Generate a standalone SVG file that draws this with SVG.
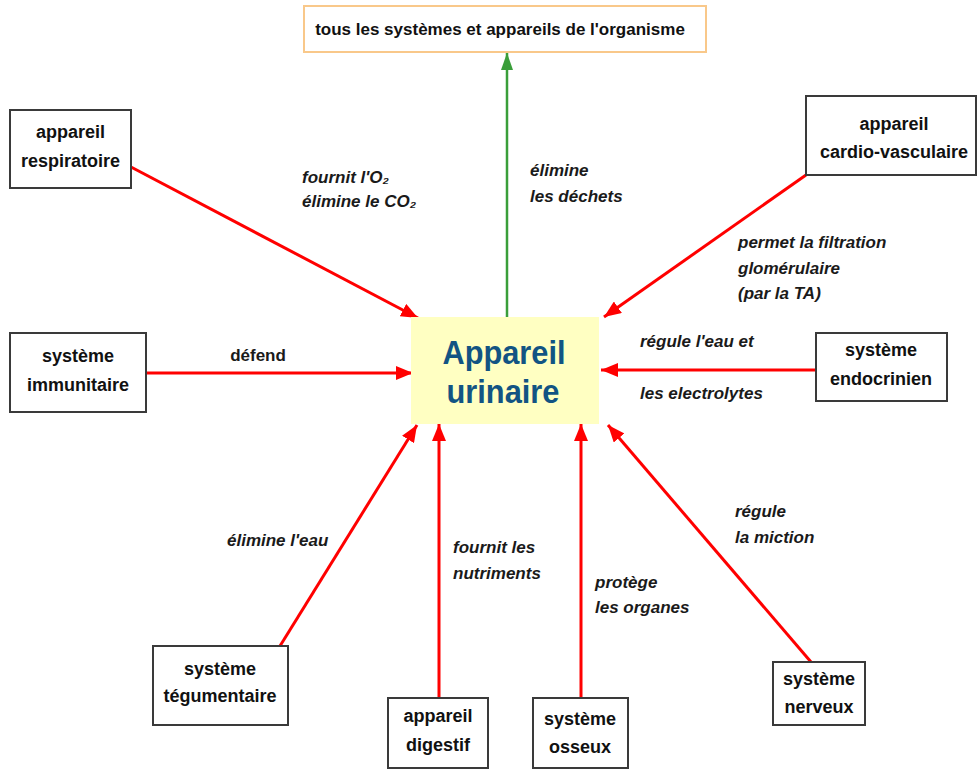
<svg xmlns="http://www.w3.org/2000/svg" width="979" height="769" viewBox="0 0 979 769">
<defs>
<style>
.box{fill:#fff;stroke:#3a3a3a;stroke-width:2}
.nt{font-family:"Liberation Sans",Arial,sans-serif;font-size:18px;font-weight:bold;fill:#111;text-anchor:middle}
.lb{font-family:"Liberation Sans",Arial,sans-serif;font-size:17px;font-weight:bold;font-style:italic;fill:#1a1a1a}
.red{stroke:#ff0000;stroke-width:3;fill:none;marker-end:url(#ar)}
.grn{stroke:#3a9e3a;stroke-width:2.5;fill:none;marker-end:url(#ag)}
.ct{font-family:"Liberation Sans",Arial,sans-serif;font-size:34px;font-weight:bold;fill:#125483;text-anchor:middle}
</style>
<marker id="ar" markerUnits="userSpaceOnUse" markerWidth="18" markerHeight="14" refX="17" refY="7" orient="auto"><path d="M0,0 L17,7 L0,14 z" fill="#ff0000"/></marker>
<marker id="ag" markerUnits="userSpaceOnUse" markerWidth="18" markerHeight="14" refX="17" refY="6" orient="auto"><path d="M0,0 L17,6 L0,12 z" fill="#3a9e3a"/></marker>
</defs>
<rect width="979" height="769" fill="#fff"/>
<g id="connectors">
<line class="grn" x1="507" y1="317" x2="507" y2="53"/>
<line class="red" x1="131" y1="167" x2="418" y2="318"/>
<line class="red" x1="146" y1="373" x2="413" y2="373"/>
<line class="red" x1="280" y1="646" x2="417" y2="425"/>
<line class="red" x1="439" y1="698" x2="439" y2="424"/>
<line class="red" x1="581" y1="698" x2="581" y2="424"/>
<line class="red" x1="811" y1="662" x2="608" y2="425"/>
<line class="red" x1="816" y1="370" x2="601" y2="370"/>
<line class="red" x1="806" y1="175" x2="604" y2="317"/>
</g>
<g id="labels">
<text class="lb" x="302" y="183">fournit l'O₂</text>
<text class="lb" x="302" y="207">élimine le CO₂</text>
<text class="lb" x="530" y="176">élimine</text>
<text class="lb" x="530" y="202">les déchets</text>
<text class="lb" x="738" y="248">permet la filtration</text>
<text class="lb" x="738" y="274">glomérulaire</text>
<text class="lb" x="738" y="299">(par la TA)</text>
<text class="lb" x="258" y="361" style="font-style:normal;text-anchor:middle">défend</text>
<text class="lb" x="640" y="347">régule l'eau et</text>
<text class="lb" x="640" y="399">les electrolytes</text>
<text class="lb" x="227" y="546">élimine l'eau</text>
<text class="lb" x="453" y="553">fournit les</text>
<text class="lb" x="453" y="579">nutriments</text>
<text class="lb" x="595" y="588">protège</text>
<text class="lb" x="595" y="613">les organes</text>
<text class="lb" x="735" y="517">régule</text>
<text class="lb" x="735" y="543">la miction</text>
</g>
<g id="urinaire">
<rect x="411" y="317" width="188" height="107" fill="#ffffc2"/>
<text class="ct" x="504" y="364" textLength="123" lengthAdjust="spacingAndGlyphs">Appareil</text>
<text class="ct" x="503" y="403" textLength="113" lengthAdjust="spacingAndGlyphs">urinaire</text>
</g>
<g id="organisme">
<rect x="304" y="6" width="402" height="46" fill="#fff" stroke="#f9c88a" stroke-width="2"/>
<text class="nt" x="500" y="35" style="font-size:17px">tous les systèmes et appareils de l'organisme</text>
</g>
<g id="respiratoire">
<rect class="box" x="10" y="110" width="121" height="78"/>
<text class="nt" x="70.5" y="138">appareil</text>
<text class="nt" x="70.5" y="167">respiratoire</text>
</g>
<g id="cardio">
<rect class="box" x="806" y="96" width="170" height="79"/>
<text class="nt" x="894" y="130">appareil</text>
<text class="nt" x="894" y="158">cardio-vasculaire</text>
</g>
<g id="immunitaire">
<rect class="box" x="10" y="333" width="136" height="79"/>
<text class="nt" x="78" y="362">système</text>
<text class="nt" x="78" y="391">immunitaire</text>
</g>
<g id="endocrinien">
<rect class="box" x="816" y="333" width="131" height="68"/>
<text class="nt" x="881" y="356">système</text>
<text class="nt" x="881" y="385">endocrinien</text>
</g>
<g id="tegumentaire">
<rect class="box" x="153" y="646" width="135" height="79"/>
<text class="nt" x="220" y="675">système</text>
<text class="nt" x="220" y="702">tégumentaire</text>
</g>
<g id="digestif">
<rect class="box" x="388" y="698" width="100" height="70"/>
<text class="nt" x="438" y="722">appareil</text>
<text class="nt" x="438" y="751">digestif</text>
</g>
<g id="osseux">
<rect class="box" x="533" y="698" width="95" height="70"/>
<text class="nt" x="580" y="725">système</text>
<text class="nt" x="580" y="753">osseux</text>
</g>
<g id="nerveux">
<rect class="box" x="773" y="662" width="92" height="63"/>
<text class="nt" x="819" y="685">système</text>
<text class="nt" x="819" y="713">nerveux</text>
</g>
</svg>
